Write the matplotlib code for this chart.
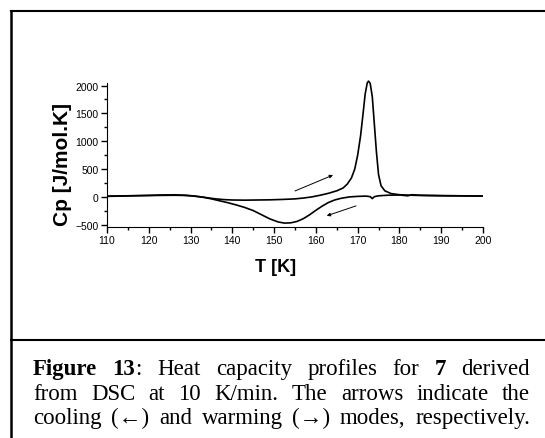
import matplotlib
matplotlib.use("Agg")
import matplotlib.pyplot as plt
from matplotlib.lines import Line2D

# warming curve
warm_T = [110, 113, 116, 120, 123, 126, 128, 130, 132, 134, 136, 138, 140, 143, 146,
          149, 152, 155, 157, 159, 161, 163, 165, 166.5, 167.5, 168.5, 169.3, 170,
          170.7, 171.3, 171.8, 172.3, 172.6, 173, 173.5, 174, 174.5, 175, 175.6,
          176.5, 178, 180, 183, 186, 190, 195, 200]
warm_Cp = [15, 18, 22, 25, 28, 30, 28, 20, 5, -15, -35, -48, -55, -58, -55,
           -52, -45, -35, -20, 0, 30, 65, 110, 160, 230, 340, 500, 750,
           1100, 1500, 1850, 2050, 2080, 2040, 1800, 1300, 800, 400, 200,
           110, 60, 40, 30, 25, 20, 18, 15]

# cooling curve
cool_T = [110, 113, 116, 120, 123, 126, 129, 131, 133, 135, 137, 139, 141, 143, 145,
          147, 149, 151, 152.5, 154, 155.5, 157, 158.5, 160, 161.5, 163, 164.5,
          166, 168, 170, 172, 173, 173.5, 174, 175, 177, 180, 182, 183, 185, 190,
          195, 200]
cool_Cp = [10, 15, 20, 28, 35, 38, 30, 15, -5, -35, -70, -105, -145, -190, -245,
           -320, -395, -450, -470, -465, -440, -390, -320, -240, -165, -100, -55,
           -25, 0, 10, 15, 5, -30, 5, 20, 30, 35, 20, 40, 30, 25,
           20, 15]

x_ticks = [110, 120, 130, 140, 150, 160, 170, 180, 190, 200]
y_ticks = [-500, 0, 500, 1000, 1500, 2000]

# arrows: (start T, start Cp, end T, end Cp)
warm_arrow = (155.0, 107, 164.1, 393)
cool_arrow = (169.6, -161, 162.6, -339)

caption_lines = [
    [[("Figure", True)], [("13", True), (":", False)], [("Heat", False)],
     [("capacity", False)], [("profiles", False)], [("for", False)],
     [("7", True)], [("derived", False)]],
    [[(w, False)] for w in "from DSC at 10 K/min. The arrows indicate the".split()],
    [[(w, False)] for w in "cooling (\u2190) and warming (\u2192) modes, respectively.".split()],
]

W, H = 545, 439
fig = plt.figure(figsize=(W / 100, H / 100), dpi=100)
ax = fig.add_axes([107 / W, 1 - 228 / H, (483 - 107) / W, (228 - 81) / H])

ax.plot(warm_T, warm_Cp, color="black", lw=1.2)
ax.plot(cool_T, cool_Cp, color="black", lw=1.2)

for a in (warm_arrow, cool_arrow):
    ax.annotate("", xy=(a[2], a[3]), xytext=(a[0], a[1]),
                arrowprops=dict(arrowstyle="-|>", color="black", lw=0.7,
                                mutation_scale=5, shrinkA=0, shrinkB=0))

ax.set_xlim(110, 200)
ax.set_ylim(-540, 2100)
ax.spines["top"].set_visible(False)
ax.spines["right"].set_visible(False)
ax.spines["left"].set_bounds(-540, 2050)
ax.set_xticks(x_ticks)
ax.set_xticks([115, 125, 135, 145, 155, 165, 175, 185, 195], minor=True)
ax.set_yticks(y_ticks)
ax.set_yticks([-250, 250, 750, 1250, 1750], minor=True)
ax.tick_params(which="major", direction="out", length=4, width=1, labelsize=7.5, pad=2)
ax.tick_params(which="minor", direction="out", length=2.5, width=1)
for lab in ax.get_xticklabels() + ax.get_yticklabels():
    lab.set_family("Liberation Sans")

fig.text(276 / W, 1 - 268 / H, "T [K]", ha="center", va="center",
         fontsize=13, fontweight="bold", family="Liberation Sans")
fig.text(63 / W, 1 - 165 / H, "Cp [J/mol.K]", ha="center", va="center",
         rotation=90, fontsize=15, fontweight="bold", family="Liberation Sans")

# frame around figure and caption
fig.add_artist(Line2D([11 / W, 11 / W], [0, 1 - 12 / H], transform=fig.transFigure,
                      color="black", lw=1.8))
fig.add_artist(Line2D([11 / W, 1], [1 - 12 / H, 1 - 12 / H], transform=fig.transFigure,
                      color="black", lw=1.5))
fig.add_artist(Line2D([11 / W, 1], [1 - 341 / H, 1 - 341 / H], transform=fig.transFigure,
                      color="black", lw=1.5))

# justified caption
renderer = fig.canvas.get_renderer()
fam = ["Liberation Serif", "DejaVu Serif"]
fs = 16.5
left, right = 33, 530
baselines = [375, 400, 424]


def word_width(parts):
    w = 0
    for s, b in parts:
        t = fig.text(0, 0, s, fontsize=fs, family=fam, fontweight="bold" if b else "normal")
        w += t.get_window_extent(renderer).width
        t.remove()
    return w


for i, words in enumerate(caption_lines):
    widths = [word_width(w) for w in words]
    gap = (right - left - sum(widths)) / (len(words) - 1)
    x = left
    for parts, wd in zip(words, widths):
        xx = x
        for s, b in parts:
            t = fig.text(xx / W, 1 - baselines[i] / H, s, fontsize=fs, family=fam,
                         fontweight="bold" if b else "normal", va="baseline")
            xx += t.get_window_extent(renderer).width
        x += wd + gap

fig.savefig("out.png", dpi=100)
